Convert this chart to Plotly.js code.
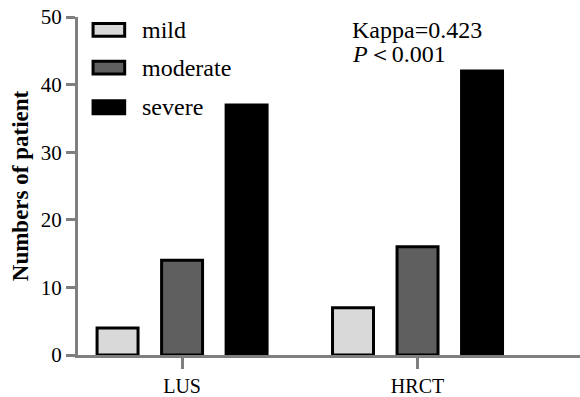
<!DOCTYPE html>
<html>
<head>
<meta charset="utf-8">
<script src="https://cdn.plot.ly/plotly-3.0.1.min.js"></script>
<style>html,body{margin:0;padding:0;background:#fff;}#chart{width:580px;height:397px;}</style>
</head>
<body>
<div id="chart"></div>
<script>
const categories = ["LUS", "HRCT"];
const seriesNames = ["mild", "moderate", "severe"];
const mildValues = [4, 7];
const moderateValues = [14, 16];
const severeValues = [37, 42];
const fillColors = ["#d9d9d9", "#5f5f5f", "#000000"];
const yTicks = [0, 10, 20, 30, 40, 50];

const serif = "Liberation Serif";
const values = [mildValues, moderateValues, severeValues];
const traces = seriesNames.map((name, i) => ({
  type: "bar",
  name: name,
  x: [0, 1],
  y: values[i],
  marker: {color: fillColors[i], line: {color: "#000", width: 3}},
  showlegend: false,
  hoverinfo: "y"
}));

// custom legend (wide rectangles like the reference)
const shapes = [];
const annotations = [];
const legY = [0.962, 0.850, 0.733];
seriesNames.forEach((name, i) => {
  shapes.push({type: "rect", xref: "paper", yref: "paper",
    x0: 0.030, x1: 0.093, y0: legY[i] - 0.019, y1: legY[i] + 0.019,
    fillcolor: fillColors[i], line: {color: "#000", width: 3}});
  annotations.push({xref: "paper", yref: "paper", x: 0.124, y: legY[i],
    xanchor: "left", yanchor: "middle", showarrow: false, text: name,
    font: {family: serif, size: 24, color: "#000"}});
});
annotations.push({xref: "paper", yref: "paper", x: 0.541, y: 0.962, xanchor: "left", yanchor: "middle",
  showarrow: false, text: "Kappa=0.423", font: {family: serif, size: 24, color: "#000"}});
annotations.push({xref: "paper", yref: "paper", x: 0.541, y: 0.89, xanchor: "left", yanchor: "middle",
  showarrow: false, text: "<i>P</i>＜0.001", font: {family: serif, size: 24, color: "#000"}});

const layout = {
  width: 580, height: 397,
  margin: {l: 78, r: 0, t: 17, b: 42},
  paper_bgcolor: "#fff", plot_bgcolor: "#fff",
  barmode: "group", bargap: 0.178, bargroupgap: 0.365,
  font: {family: serif, color: "#000"},
  xaxis: {
    range: [-0.442, 1.69], tickvals: [0, 1], ticktext: categories,
    showgrid: false, zeroline: false, showline: true, linecolor: "#7f7f7f", linewidth: 3,
    ticks: "outside", ticklen: 11, tickwidth: 3, tickcolor: "#7f7f7f",
    tickfont: {family: serif, size: 20, color: "#000"}
  },
  yaxis: {
    range: [0, 50], tickvals: yTicks, showgrid: false, zeroline: false,
    showline: true, linecolor: "#7f7f7f", linewidth: 3,
    ticks: "outside", ticklen: 9, tickwidth: 3, tickcolor: "#7f7f7f",
    tickfont: {family: serif, size: 21, color: "#000"},
    title: {text: "<b>Numbers of patient</b>", font: {family: serif, size: 23, color: "#000"}, standoff: 6}
  },
  shapes: shapes,
  annotations: annotations
};
Plotly.newPlot("chart", traces, layout, {displayModeBar: false, staticPlot: true});
</script>
</body>
</html>
